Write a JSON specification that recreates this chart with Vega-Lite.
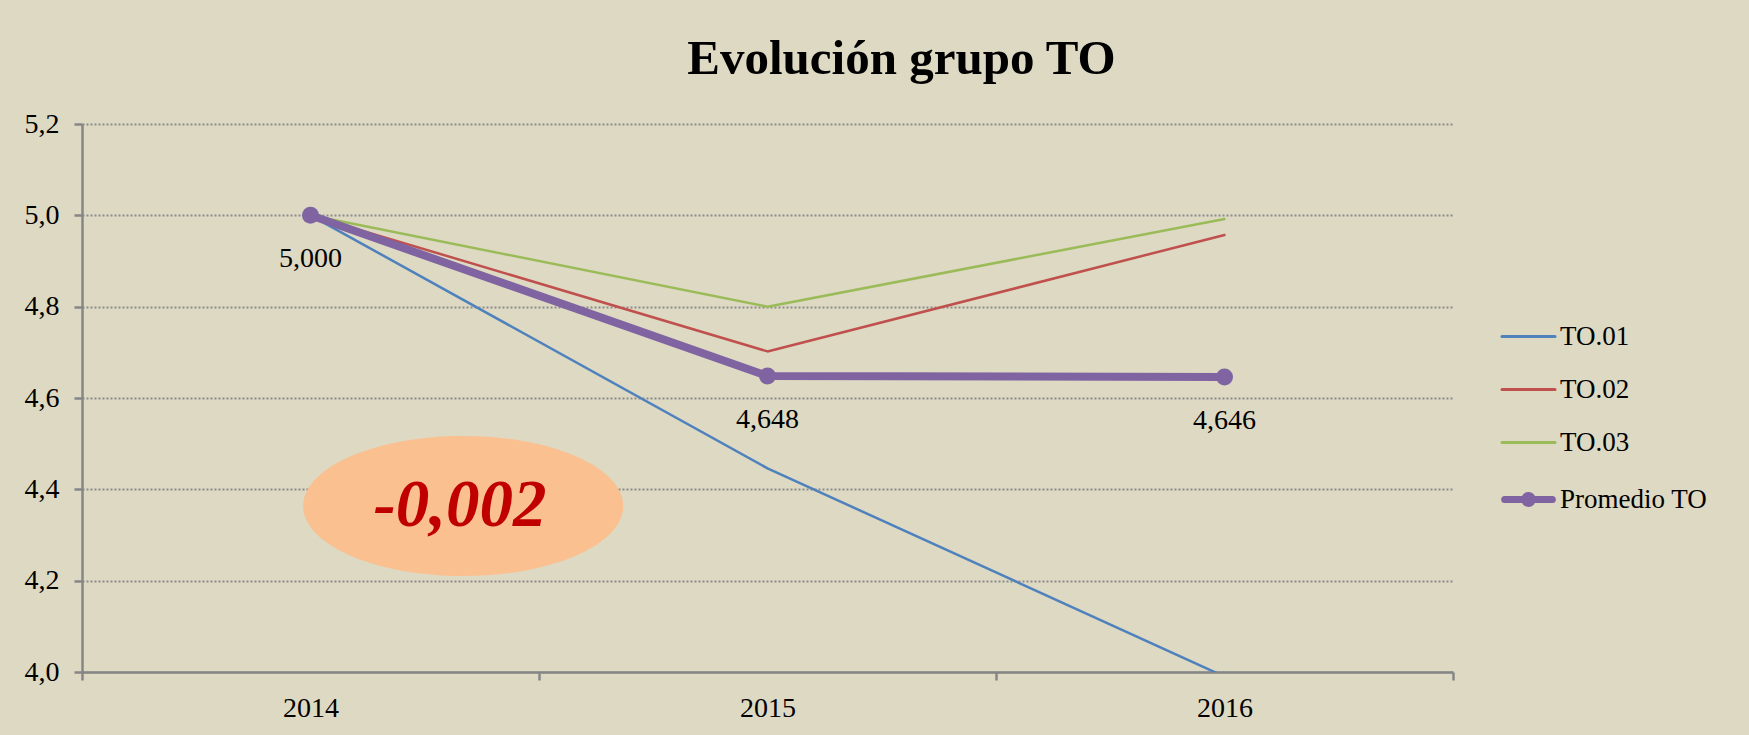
{
  "$schema": "https://vega.github.io/schema/vega-lite/v6.json",
  "width": 1371,
  "height": 548,
  "autosize": {"type": "none"},
  "padding": {"left": 82, "top": 124, "right": 296, "bottom": 63},
  "background": "#DDD9C3",
  "title": {
    "text": "Evolución grupo TO",
    "font": "Liberation Serif",
    "fontSize": 49,
    "fontWeight": "bold",
    "color": "#000000",
    "anchor": "middle",
    "frame": "group",
    "baseline": "alphabetic",
    "dx": 134,
    "dy": 47,
    "offset": 34
  },
  "config": {
    "view": {"stroke": null},
    "font": "Liberation Serif"
  },
  "data": {
    "values": [
      {"series": "TO.01", "year": 2014, "value": 5.0},
      {"series": "TO.01", "year": 2015, "value": 4.446},
      {"series": "TO.01", "year": 2016, "value": 3.99},
      {"series": "TO.02", "year": 2014, "value": 5.0},
      {"series": "TO.02", "year": 2015, "value": 4.702},
      {"series": "TO.02", "year": 2016, "value": 4.957},
      {"series": "TO.03", "year": 2014, "value": 5.0},
      {"series": "TO.03", "year": 2015, "value": 4.8},
      {"series": "TO.03", "year": 2016, "value": 4.992},
      {"series": "Promedio TO", "year": 2014, "value": 5.0},
      {"series": "Promedio TO", "year": 2015, "value": 4.648},
      {"series": "Promedio TO", "year": 2016, "value": 4.646}
    ]
  },
  "encoding": {
    "x": {
      "field": "year",
      "type": "quantitative",
      "scale": {"domain": [2013.5, 2016.5], "nice": false, "zero": false},
      "axis": {
        "values": [2013.5, 2014.5, 2015.5, 2016.5],
        "labelExpr": "datum.value < 2016 ? toString(datum.value + 0.5) : ''",
        "labelOffset": 228.5,
        "title": null,
        "grid": false,
        "domainColor": "#868686",
        "domainWidth": 2.5,
        "tickColor": "#868686",
        "tickWidth": 2.5,
        "tickSize": 8,
        "labelFontSize": 28,
        "labelFont": "Liberation Serif",
        "labelColor": "#000000",
        "labelPadding": 14,
        "labelOverlap": false,
        "labelFlush": false,
        "labelBound": false
      }
    },
    "y": {
      "field": "value",
      "type": "quantitative",
      "scale": {"domain": [4.0, 5.2], "nice": false, "zero": false},
      "axis": {
        "values": [4.0, 4.2, 4.4, 4.6, 4.8, 5.0, 5.2],
        "labelExpr": "replace(format(datum.value, '.1f'), '.', ',')",
        "title": null,
        "grid": true,
        "gridDash": [2, 2],
        "gridColor": "#8c8c8c",
        "gridWidth": 2,
        "domainColor": "#868686",
        "domainWidth": 2.5,
        "tickColor": "#868686",
        "tickWidth": 2.5,
        "tickSize": 8,
        "labelFontSize": 28,
        "labelFont": "Liberation Serif",
        "labelColor": "#000000",
        "labelPadding": 15
      }
    }
  },
  "layer": [
    {
      "data": {"values": [{"year": 2014.334, "value": 4.3635}]},
      "mark": {
        "type": "point",
        "shape": "M-1,0A1,0.4375,0,1,0,1,0A1,0.4375,0,1,0,-1,0Z",
        "size": 102400,
        "filled": true,
        "fill": "#FAC090",
        "opacity": 1,
        "strokeWidth": 0
      }
    },
    {
      "data": {"values": [{"year": 2014.327, "value": 4.32, "label": "-0,002"}]},
      "mark": {
        "type": "text",
        "font": "Liberation Serif",
        "fontSize": 67,
        "fontWeight": "bold",
        "fontStyle": "italic",
        "color": "#C00000",
        "baseline": "alphabetic",
        "align": "center"
      },
      "encoding": {"text": {"field": "label"}}
    },
    {
      "mark": {"type": "line", "clip": true, "strokeCap": "round", "strokeJoin": "round"},
      "encoding": {
        "color": {
          "field": "series",
          "type": "nominal",
          "scale": {
            "domain": ["TO.01", "TO.02", "TO.03", "Promedio TO"],
            "range": ["#4F81BD", "#C0504D", "#9BBB59", "#8064A2"]
          },
          "legend": {
            "title": null,
            "orient": "none",
            "legendX": 1420,
            "legendY": 199,
            "padding": 0,
            "rowPadding": 25,
            "labelOffset": 5,
            "symbolType": "stroke",
            "symbolSize": 2809,
            "symbolStrokeWidth": 3,
            "labelFontSize": 27,
            "labelFont": "Liberation Serif",
            "labelColor": "#000000",
            "encode": {
              "symbols": {
                "update": {
                  "x": {"value": 26.5},
                  "size": {"value": 2809},
                  "shape": {"signal": "datum.value === 'Promedio TO' ? 'M-0.9,0L0.9,0M0.15,0A0.15,0.15,0,1,1,-0.15,0A0.15,0.15,0,1,1,0.15,0Z' : 'stroke'"},
                  "strokeWidth": {"signal": "datum.value === 'Promedio TO' ? 7 : 3"},
                  "fill": {"signal": "datum.value === 'Promedio TO' ? '#8064A2' : 'transparent'"},
                  "strokeCap": {"value": "round"}
                }
              },
              "labels": {
                "update": {
                  "x": {"value": 58}
                }
              }
            }
          }
        },
        "strokeWidth": {
          "condition": {"test": "datum.series === 'Promedio TO'", "value": 8},
          "value": 2.5
        }
      }
    },
    {
      "transform": [{"filter": "datum.series === 'Promedio TO'"}],
      "mark": {"type": "point", "filled": true, "size": 290, "opacity": 1, "color": "#8064A2"}
    },
    {
      "transform": [
        {"filter": "datum.series === 'Promedio TO'"},
        {"calculate": "replace(format(datum.value, '.3f'), '.', ',')", "as": "lbl"}
      ],
      "mark": {
        "type": "text",
        "font": "Liberation Serif",
        "fontSize": 28,
        "color": "#000000",
        "baseline": "alphabetic",
        "align": "center",
        "dy": 52
      },
      "encoding": {"text": {"field": "lbl"}}
    }
  ]
}
